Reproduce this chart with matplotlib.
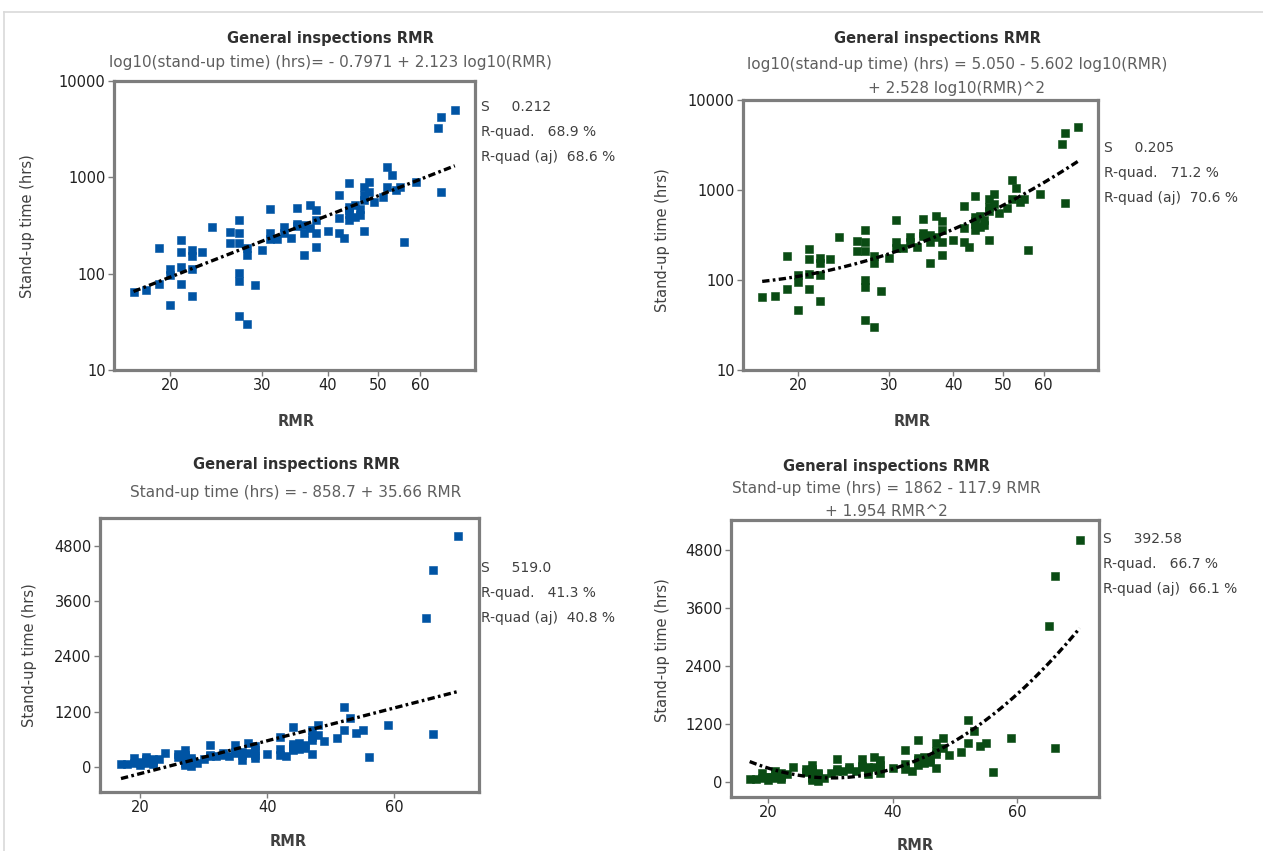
import numpy as np
import matplotlib
matplotlib.use('Agg')
import matplotlib.pyplot as plt
from matplotlib.lines import Line2D
from matplotlib.ticker import NullLocator

rmr = [17, 18, 19, 19, 20, 20, 20, 21, 21, 21, 21, 22, 22, 22, 22, 23, 24,
       26, 26, 27, 27, 27, 27, 27, 27, 28, 28, 28, 29, 30, 31, 31, 31, 32,
       33, 33, 34, 35, 35, 35, 36, 36, 36, 37, 37, 38, 38, 38, 38, 40, 42,
       42, 42, 43, 44, 44, 44, 44, 44, 45, 45, 46, 46, 47, 47, 47, 47, 48,
       48, 49, 51, 52, 52, 53, 54, 55, 56, 59, 65, 66, 66, 70]
hrs = [64, 67, 183, 79, 113, 96, 47, 223, 169, 118, 79, 176, 153, 113, 59,
       169, 303, 273, 210, 361, 264, 210, 101, 83, 36, 183, 156, 30, 76, 176,
       466, 264, 227, 227, 303, 264, 233, 477, 309, 330, 156, 264, 318, 517,
       300, 458, 264, 191, 361, 280, 656, 380, 264, 233, 867, 496, 361, 458,
       420, 520, 390, 406, 470, 280, 800, 582, 650, 902, 700, 558, 630, 1291,
       800, 1057, 738, 800, 215, 902, 3229, 4270, 710, 5002]

# fitted coefficients printed in the subtitles
coef_log_lin = [-0.7971, 2.123]
coef_log_quad = [5.050, -5.602, 2.528]
coef_lin = [-858.7, 35.66]
coef_quad = [1862, -117.9, 1.954]

stats_tl = ['S     0.212', 'R-quad.   68.9 %', 'R-quad (aj)  68.6 %']
stats_tr = ['S     0.205', 'R-quad.   71.2 %', 'R-quad (aj)  70.6 %']
stats_bl = ['S     519.0', 'R-quad.   41.3 %', 'R-quad (aj)  40.8 %']
stats_br = ['S     392.58', 'R-quad.   66.7 %', 'R-quad (aj)  66.1 %']

W, H = 1263, 851
BLUE = '#0054a4'
GREEN = '#0a4c14'
FRAME = '#7d7d7d'
SUB = '#5f5f5f'

fig = plt.figure(figsize=(W / 100, H / 100), dpi=100)
plt.rcParams['font.family'] = ['DejaVu Sans']


def add_ax(l, t, r, b):
    return fig.add_axes([l / W, 1 - b / H, (r - l) / W, (b - t) / H])


def ftext(x, y, s, **kw):
    fig.text(x / W, 1 - y / H, s, **kw)


def style(ax):
    for sp in ax.spines.values():
        sp.set_color(FRAME)
        sp.set_linewidth(2.3)
    ax.tick_params(length=4, width=1, color=FRAME, labelsize=10.5,
                   labelcolor='#202020', pad=2)


x = np.array(rmr, dtype=float)
y = np.array(hrs, dtype=float)
xf = np.linspace(min(rmr), max(rmr), 200)
lx = np.log10(xf)
fit_ls = (0, (2.2, 1.0, 0.8, 1.0))

panels = [
    dict(box=(114, 81, 475, 370), log=True, c=BLUE,
         yfit=10 ** (coef_log_lin[0] + coef_log_lin[1] * lx),
         title=(330, 38), sub=['log10(stand-up time) (hrs)= - 0.7971 + 2.123 log10(RMR)'],
         sub_y=63, stats=stats_tl, stx=481, sty=107, ylab=(28, 226), xlab=(296, 422)),
    dict(box=(743, 100, 1098, 370), log=True, c=GREEN,
         yfit=10 ** (coef_log_quad[0] + coef_log_quad[1] * lx + coef_log_quad[2] * lx ** 2),
         title=(937, 38), sub=['log10(stand-up time) (hrs) = 5.050 - 5.602 log10(RMR)',
                               '+ 2.528 log10(RMR)^2'],
         sub_y=64, stats=stats_tr, stx=1104, sty=148, ylab=(662, 240), xlab=(912, 422)),
    dict(box=(100, 518, 479, 792), log=False, c=BLUE,
         yfit=coef_lin[0] + coef_lin[1] * xf,
         title=(296, 465), sub=['Stand-up time (hrs) = - 858.7 + 35.66 RMR'],
         sub_y=492, stats=stats_bl, stx=481, sty=568, ylab=(30, 655), xlab=(288, 842),
         xlim=(13.7, 73.3), ylim=(-544, 5402)),
    dict(box=(731, 520, 1099, 797), log=False, c=GREEN,
         yfit=coef_quad[0] + coef_quad[1] * xf + coef_quad[2] * xf ** 2,
         title=(886, 466), sub=['Stand-up time (hrs) = 1862 - 117.9 RMR', '+ 1.954 RMR^2'],
         sub_y=488, stats=stats_br, stx=1103, sty=539, ylab=(662, 650), xlab=(915, 845),
         xlim=(14.0, 73.1), ylim=(-311, 5422)),
]

for p in panels:
    ax = add_ax(*p['box'])
    style(ax)
    ax.plot(x, y, 's', ms=5.8, color=p['c'], mec=p['c'], mew=0.4, zorder=2)
    ax.plot(xf, p['yfit'], color='black', lw=2.4, ls=fit_ls, zorder=3)
    if p['log']:
        ax.set_xscale('log')
        ax.set_yscale('log')
        ax.set_xlim(15.6, 76.5)
        ax.set_ylim(10, 10000)
        ax.set_xticks([20, 30, 40, 50, 60])
        ax.set_xticklabels(['20', '30', '40', '50', '60'])
        ax.set_yticks([10, 100, 1000, 10000])
        ax.set_yticklabels(['10', '100', '1000', '10000'])
        ax.xaxis.set_minor_locator(NullLocator())
        ax.yaxis.set_minor_locator(NullLocator())
    else:
        ax.set_xlim(*p['xlim'])
        ax.set_ylim(*p['ylim'])
        ax.set_xticks([20, 40, 60])
        ax.set_yticks([0, 1200, 2400, 3600, 4800])
    ftext(*p['title'], 'General inspections RMR', ha='center', va='center',
          fontsize=10.5, fontweight='bold', color='#303030')
    for i, s in enumerate(p['sub']):
        ftext(p['title'][0] + (20 if len(p['sub']) > 1 and p['log'] else 0),
              p['sub_y'] + i * 24, s, ha='center', va='center', fontsize=11, color=SUB)
    for i, s in enumerate(p['stats']):
        ftext(p['stx'], p['sty'] + i * 25, s, ha='left', va='center', fontsize=10,
              color='#404040')
    ftext(*p['ylab'], 'Stand-up time (hrs)', rotation=90, ha='center', va='center',
          fontsize=10.5, color='#404040')
    ftext(*p['xlab'], 'RMR', ha='center', va='center', fontsize=10.5,
          fontweight='bold', color='#404040')

# faint frame of the screenshot
fig.add_artist(Line2D([4 / W, 1], [1 - 12 / H, 1 - 12 / H], color='#d9d9d9', lw=1.2))
fig.add_artist(Line2D([4 / W, 4 / W], [0, 1 - 12 / H], color='#d9d9d9', lw=1.2))

fig.savefig('out.png', dpi=100)
